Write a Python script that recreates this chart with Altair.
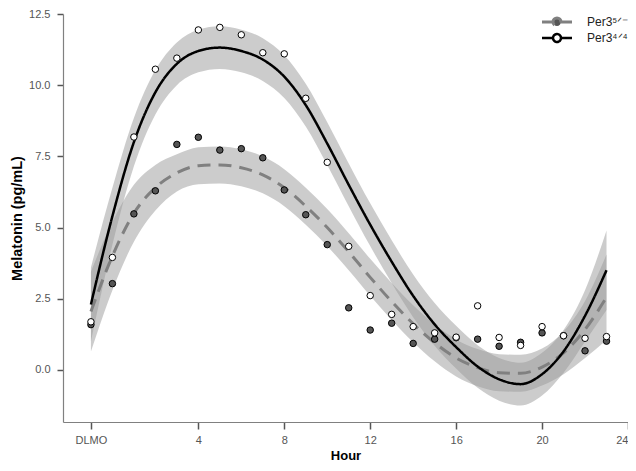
import altair as alt
import pandas as pd

# ---- data ----
hours = list(range(-1, 24))
G5 = "Per3⁵ᐟ⁻"
G4 = "Per3⁴ᐟ⁴"
groups = [G5, G4]

# observed means (open circles = Per3 4/4, filled = Per3 5/-)
obs_44 = [1.69, 3.95, 8.18, 10.56, 10.95, 11.94, 12.03, 11.77, 11.14, 11.10, 9.54, 7.29, 4.34,
          2.61, 1.95, 1.52, 1.30, 1.15, 2.25, 1.14, 0.86, 1.52, 1.20, 1.11, 1.17]
obs_5 = [1.59, 3.03, 5.48, 6.29, 7.92, 8.17, 7.72, 7.77, 7.45, 6.32, 5.45, 4.40, 2.18,
         1.40, 1.64, 0.93, 1.08, 1.13, 1.08, 0.83, 0.97, 1.30, 1.20, 0.67, 1.01]

# fitted curves and confidence bands
fit_44 = [2.30, 5.40, 8.00, 9.75, 10.75, 11.20, 11.32, 11.20, 10.90, 10.30, 9.30, 7.95, 6.50,
          5.10, 3.80, 2.60, 1.60, 0.80, 0.12, -0.33, -0.50, -0.15, 0.65, 1.90, 3.50]
hi_44 = [3.60, 6.40, 8.85, 10.53, 11.50, 11.95, 12.07, 11.95, 11.65, 11.05, 10.05, 8.70, 7.25,
         5.85, 4.55, 3.35, 2.35, 1.55, 0.87, 0.42, 0.25, 0.60, 1.40, 2.80, 4.90]
lo_44 = [1.00, 4.40, 7.15, 8.97, 10.00, 10.45, 10.57, 10.45, 10.15, 9.55, 8.55, 7.20, 5.75,
         4.35, 3.05, 1.85, 0.85, 0.05, -0.63, -1.08, -1.25, -0.90, -0.10, 1.00, 2.10]

fit_5 = [2.05, 4.00, 5.50, 6.40, 6.92, 7.17, 7.20, 7.10, 6.85, 6.40, 5.75, 5.00, 4.15,
         3.25, 2.40, 1.62, 0.95, 0.42, 0.08, -0.10, -0.12, 0.10, 0.60, 1.42, 2.55]
hi_5 = [3.45, 5.20, 6.50, 7.20, 7.57, 7.82, 7.85, 7.75, 7.50, 7.05, 6.40, 5.65, 4.80,
        3.90, 3.05, 2.27, 1.60, 1.07, 0.73, 0.55, 0.53, 0.75, 1.35, 2.42, 4.05]
lo_5 = [0.65, 2.80, 4.50, 5.60, 6.27, 6.52, 6.55, 6.45, 6.20, 5.75, 5.10, 4.35, 3.50,
        2.60, 1.75, 0.97, 0.30, -0.23, -0.57, -0.75, -0.77, -0.55, -0.15, 0.42, 1.05]

x_ticks = [-1, 4, 8, 12, 16, 20, 24]
y_ticks = [0, 2.5, 5, 7.5, 10, 12.5]

rows = []
for g, ob, ft, lo, hi in [(G5, obs_5, fit_5, lo_5, hi_5), (G4, obs_44, fit_44, lo_44, hi_44)]:
    for h, o, f, l, u in zip(hours, ob, ft, lo, hi):
        rows.append({"hour": h, "obs": o, "fit": f, "lo": l, "hi": u, "group": g})
df = pd.DataFrame(rows)

FONT = "Liberation Sans"
xscale = alt.Scale(domain=[-2.3, 24.0], nice=False, zero=False)
yscale = alt.Scale(domain=[-1.83, 12.5], nice=False, zero=False)
xaxis = alt.Axis(values=x_ticks, labelExpr="datum.value == -1 ? 'DLMO' : datum.label",
                 title="Hour", tickSize=7, labelPadding=5, titlePadding=4, titleFontSize=13)
yaxis = alt.Axis(values=y_ticks, format=".1f", title="Melatonin (pg/mL)",
                 tickSize=6, labelPadding=7, titlePadding=4, titleFontSize=14.5)

X = alt.X("hour:Q", scale=xscale, axis=xaxis)

PATH = ("M-5,0L-1.33,0M1.33,0L5,0M-1.33,0A1.33,1.33,0,1,1,1.33,0"
        "A1.33,1.33,0,1,1,-1.33,0Z")
leg = alt.Legend(title=None, orient="none", legendX=488, legendY=2, symbolType=PATH,
                 symbolSize=36, symbolStrokeWidth=2, labelFont=FONT, labelFontSize=12,
                 labelColor="#222222", rowPadding=-13, labelOffset=24, padding=0)

bands = alt.Chart(df).mark_area(opacity=0.5, color="#999999", interpolate="monotone").encode(
    x=X,
    y=alt.Y("lo:Q", scale=yscale, axis=yaxis),
    y2="hi:Q",
    detail="group:N",
)

lines = alt.Chart(df).mark_line(interpolate="monotone").encode(
    x=X,
    y=alt.Y("fit:Q", scale=yscale, axis=yaxis),
    stroke=alt.Stroke("group:N", scale=alt.Scale(domain=groups, range=["#808080", "#000000"]), legend=leg),
    strokeDash=alt.StrokeDash("group:N", scale=alt.Scale(domain=groups, range=[[13, 8], [1, 0]]), legend=None),
    strokeWidth=alt.StrokeWidth("group:N", scale=alt.Scale(domain=groups, range=[3, 2.5]), legend=None),
)

points = alt.Chart(df).mark_point(shape="circle", filled=True, size=42, stroke="black",
                                  strokeWidth=1, opacity=1).encode(
    x=X,
    y=alt.Y("obs:Q", scale=yscale, axis=yaxis),
    fill=alt.Fill("group:N", scale=alt.Scale(domain=groups, range=["#555555", "#ffffff"]), legend=leg),
)

chart = alt.layer(bands, lines, points).properties(
    width=565, height=408,
    autosize=alt.AutoSizeParams(type="none"),
    padding={"left": 55, "top": 6, "right": 0, "bottom": 41},
).configure_view(stroke=None).configure_axis(
    grid=False, domainColor="#808080", tickColor="#555555", labelColor="#555555",
    labelFont=FONT, labelFontSize=11, titleFont=FONT,
    titleFontWeight="bold", titleColor="#000000", domainWidth=1.2, tickWidth=1.5,
)

chart.save("out.html", embed_options={"renderer": "svg", "actions": False})
